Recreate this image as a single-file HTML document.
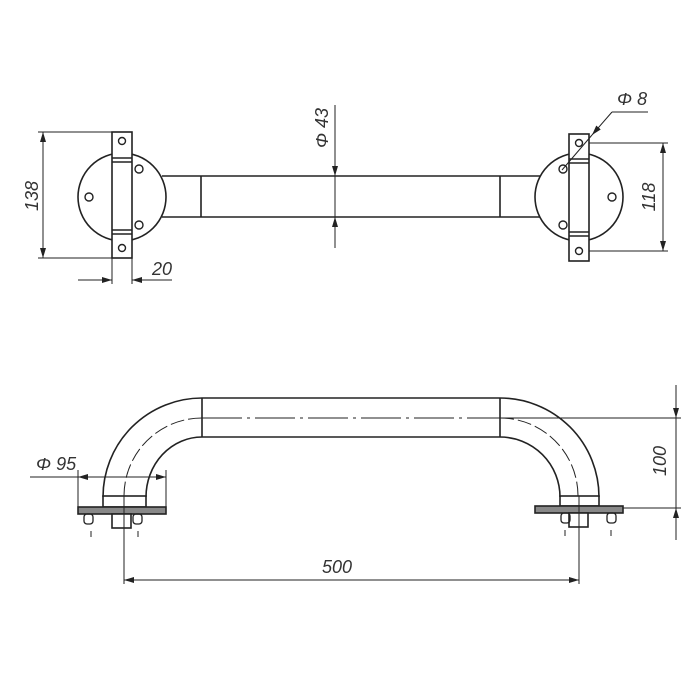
<!DOCTYPE html>
<html><head><meta charset="utf-8"><style>
html,body{margin:0;padding:0;background:#fff;}
svg{display:block}
text{font-family:"Liberation Sans",sans-serif;font-style:italic;font-size:18px;fill:#333}
</style></head><body>
<svg width="700" height="700" viewBox="0 0 700 700" xmlns="http://www.w3.org/2000/svg">
<defs>
<marker id="a" viewBox="0 0 10 6" refX="10" refY="3" markerWidth="10" markerHeight="6" orient="auto-start-reverse" markerUnits="userSpaceOnUse"><path d="M0,0 L10,3 L0,6 z" fill="#222"/></marker>
</defs>
<g stroke="#222" fill="none" stroke-width="1.6">
<circle cx="122" cy="197" r="44" fill="#fff"/>
<line x1="162" y1="176" x2="543" y2="176"/>
<line x1="162" y1="217" x2="543" y2="217"/>
<line x1="201" y1="176" x2="201" y2="217"/>
<line x1="500" y1="176" x2="500" y2="217"/>
<circle cx="579" cy="197" r="44" fill="#fff"/>
<rect x="112" y="132" width="20" height="126" fill="#fff"/>
<line x1="112" y1="158" x2="132" y2="158"/><line x1="112" y1="162" x2="132" y2="162"/>
<line x1="112" y1="230" x2="132" y2="230"/><line x1="112" y1="234" x2="132" y2="234"/>
<rect x="569" y="134" width="20" height="127" fill="#fff"/>
<line x1="569" y1="159" x2="589" y2="159"/><line x1="569" y1="163" x2="589" y2="163"/>
<line x1="569" y1="232" x2="589" y2="232"/><line x1="569" y1="236" x2="589" y2="236"/>
<g stroke-width="1.4">
<circle cx="122" cy="141" r="3.5"/><circle cx="122" cy="248" r="3.5"/>
<circle cx="139" cy="169" r="4"/><circle cx="139" cy="225" r="4"/><circle cx="89" cy="197" r="4"/>
<circle cx="579" cy="143" r="3.5"/><circle cx="579" cy="251" r="3.5"/>
<circle cx="563" cy="169" r="4"/><circle cx="563" cy="225" r="4"/><circle cx="612" cy="197" r="4"/>
</g>
</g>
<g stroke="#222" fill="none" stroke-width="1">
<line x1="38" y1="132" x2="112" y2="132"/><line x1="38" y1="258" x2="112" y2="258"/>
<line x1="43" y1="132" x2="43" y2="258" marker-start="url(#a)" marker-end="url(#a)"/>
<line x1="112" y1="258" x2="112" y2="284"/><line x1="132" y1="258" x2="132" y2="284"/>
<line x1="78" y1="280" x2="112" y2="280" marker-end="url(#a)"/>
<line x1="172" y1="280" x2="132" y2="280" marker-end="url(#a)"/>
<line x1="335" y1="105" x2="335" y2="176" marker-end="url(#a)"/>
<line x1="335" y1="248" x2="335" y2="217" marker-end="url(#a)"/>
<line x1="335" y1="176" x2="335" y2="217"/>
<line x1="562" y1="170" x2="592" y2="135"/>
<line x1="612" y1="112" x2="592" y2="135" marker-end="url(#a)"/>
<line x1="612" y1="112" x2="648" y2="112"/>
<line x1="589" y1="143" x2="668" y2="143"/><line x1="589" y1="251" x2="668" y2="251"/>
<line x1="663" y1="143" x2="663" y2="251" marker-start="url(#a)" marker-end="url(#a)"/>
</g>
<text transform="translate(38,196) rotate(-90)" text-anchor="middle">138</text>
<text x="152" y="275">20</text>
<text transform="translate(328,128) rotate(-90)" text-anchor="middle">Φ 43</text>
<text x="617" y="105">Φ 8</text>
<text transform="translate(655,197) rotate(-90)" text-anchor="middle">118</text>

<g stroke="#222" fill="none" stroke-width="1.6">
<line x1="202" y1="398" x2="500" y2="398"/>
<line x1="202" y1="437" x2="500" y2="437"/>
<line x1="202" y1="398" x2="202" y2="437"/>
<line x1="500" y1="398" x2="500" y2="437"/>
<path d="M202,398 A99,99 0 0 0 103,497"/>
<path d="M202,437 A56,60 0 0 0 146,497"/>
<path d="M500,398 A99,99 0 0 1 599,497"/>
<path d="M500,437 A60,60 0 0 1 560,497"/>
<rect x="103" y="496" width="43" height="11"/>
<rect x="560" y="496" width="39" height="10"/>
<rect x="78" y="507" width="88" height="7" fill="#888"/>
<rect x="535" y="506" width="88" height="7" fill="#888"/>
<rect x="112" y="514" width="19" height="14" fill="#fff"/>
<rect x="569" y="513" width="19" height="14" fill="#fff"/>
<g stroke-width="1.3">
<rect x="84" y="514" width="9" height="10" rx="3"/><rect x="133" y="514" width="9" height="10" rx="3"/>
<rect x="561" y="513" width="9" height="10" rx="3"/><rect x="607" y="513" width="9" height="10" rx="3"/>
</g>
</g>
<g stroke="#222" fill="none" stroke-width="1">
<path d="M202,418 A78,78 0 0 0 124,496" stroke-dasharray="14,4"/>
<path d="M500,418 A78,78 0 0 1 578,496" stroke-dasharray="14,4"/>
<line x1="202" y1="418" x2="500" y2="418" stroke-dasharray="40,5,3,5"/>
<line x1="91" y1="531" x2="91" y2="537"/><line x1="138" y1="531" x2="138" y2="537"/>
<line x1="565" y1="530" x2="565" y2="536"/><line x1="611" y1="530" x2="611" y2="536"/>
<line x1="78" y1="470" x2="78" y2="507"/><line x1="166" y1="470" x2="166" y2="507"/>
<line x1="30" y1="477" x2="166" y2="477"/>
<line x1="95" y1="477" x2="78" y2="477" marker-end="url(#a)"/>
<line x1="150" y1="477" x2="166" y2="477" marker-end="url(#a)"/>
<line x1="500" y1="418" x2="681" y2="418"/><line x1="623" y1="508" x2="681" y2="508"/>
<line x1="676" y1="385" x2="676" y2="418" marker-end="url(#a)"/>
<line x1="676" y1="540" x2="676" y2="508" marker-end="url(#a)"/>
<line x1="676" y1="418" x2="676" y2="508"/>
<line x1="124" y1="496" x2="124" y2="584"/><line x1="579" y1="496" x2="579" y2="584"/>
<line x1="124" y1="580" x2="579" y2="580" marker-start="url(#a)" marker-end="url(#a)"/>
</g>
<text x="36" y="470">Φ 95</text>
<text transform="translate(666,461) rotate(-90)" text-anchor="middle">100</text>
<text x="322" y="573">500</text>
</svg>
</body></html>
